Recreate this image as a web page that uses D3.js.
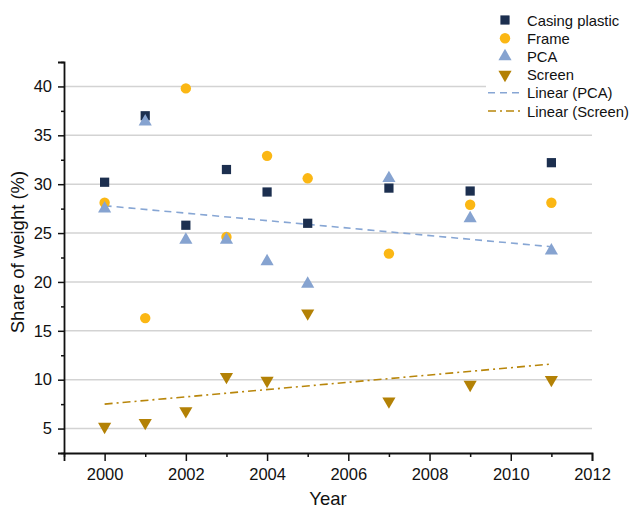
<!DOCTYPE html>
<html><head><meta charset="utf-8">
<script src="https://cdn.jsdelivr.net/npm/d3@7/dist/d3.min.js"></script>
<style>body{margin:0;background:#fff}svg{display:block;font-family:"Liberation Sans",Arial,sans-serif}</style>
</head><body><svg id="c" width="630" height="508"></svg>
<script>
const years = [2000, 2001, 2002, 2003, 2004, 2005, 2007, 2009, 2011];
const casingPlastic = [30.2, 37.0, 25.8, 31.5, 29.2, 26.0, 29.6, 29.3, 32.2];
const frame = [28.1, 16.3, 39.8, 24.6, 32.9, 30.6, 22.9, 27.9, 28.1];
const pca = [27.5, 36.4, 24.3, 24.3, 22.1, 19.8, 30.6, 26.5, 23.2];
const screen = [5.2, 5.6, 6.8, 10.3, 9.9, 16.8, 7.8, 9.5, 10.0];
const trendYears = [2000, 2011];
const trendPCA = [27.8, 23.6];
const trendScreen = [7.5, 11.6];
const xTicks = [2000, 2002, 2004, 2006, 2008, 2010, 2012];
const yTicks = [5, 10, 15, 20, 25, 30, 35, 40];

const svg = d3.select("#c");
const x = d3.scaleLinear().domain([1999, 2012]).range([64, 592]);
const y = d3.scaleLinear().domain([2.5, 42.5]).range([453, 62]);

// grid
svg.append("g").selectAll("line").data(yTicks).join("line")
  .attr("x1", 64).attr("x2", 592).attr("y1", d => y(d)).attr("y2", d => y(d))
  .attr("stroke", "#d3d3d3").attr("stroke-width", 1.5);

// trend lines
const line = d3.line().x(d => x(d[0])).y(d => y(d[1]));
svg.append("path").attr("d", line(trendYears.map((t, i) => [t, trendPCA[i]])))
  .attr("fill", "none").attr("stroke", "#87a6d4").attr("stroke-width", 1.6).attr("stroke-dasharray", "7,5");
svg.append("path").attr("d", line(trendYears.map((t, i) => [t, trendScreen[i]])))
  .attr("fill", "none").attr("stroke", "#b8860b").attr("stroke-width", 1.6).attr("stroke-dasharray", "8,4,2,4");

// axes
svg.append("g").attr("transform", "translate(0,453)")
  .call(d3.axisBottom(x).tickValues(xTicks).tickFormat(d3.format("d")).tickSize(8).tickPadding(7));
svg.append("g").attr("transform", "translate(0,453)")
  .call(d3.axisBottom(x).tickValues(d3.range(1999, 2012, 2)).tickFormat("").tickSize(4))
  .select(".domain").remove();
svg.append("g").attr("transform", "translate(64,0)")
  .call(d3.axisLeft(y).tickValues(yTicks).tickSize(6).tickPadding(6));
svg.append("g").attr("transform", "translate(64,0)")
  .call(d3.axisLeft(y).tickValues(d3.range(2.5, 43, 5)).tickFormat("").tickSize(3))
  .select(".domain").remove();
svg.selectAll(".domain").attr("stroke", "#111").attr("stroke-width", 1.8);
svg.selectAll(".tick line").attr("stroke", "#111").attr("stroke-width", 1.5);
svg.selectAll(".tick text").attr("font-size", 16.5).attr("fill", "#111").attr("font-family", "Liberation Sans, Arial, sans-serif");

// axis titles
svg.append("text").attr("x", 328).attr("y", 505).attr("text-anchor", "middle")
  .attr("font-size", 18.5).attr("fill", "#111").text("Year");
svg.append("text").attr("transform", "translate(24,252) rotate(-90)").attr("text-anchor", "middle")
  .attr("font-size", 18.5).attr("fill", "#111").text("Share of weight (%)");

// markers
const sym = (type, size) => d3.symbol().type(type).size(size)();
const series = [
  {name: "Casing plastic", vals: casingPlastic, color: "#1c2f4f", shape: d3.symbolSquare, size: 85, rot: 0},
  {name: "Frame", vals: frame, color: "#fbb714", shape: d3.symbolCircle, size: 85, rot: 0},
  {name: "PCA", vals: pca, color: "#86a3d0", shape: d3.symbolTriangle, size: 75, rot: 0},
  {name: "Screen", vals: screen, color: "#b38105", shape: d3.symbolTriangle, size: 75, rot: 180}
];
series.forEach(s => {
  svg.append("g").selectAll("path").data(years.map((yr, i) => [yr, s.vals[i]])).join("path")
    .attr("d", sym(s.shape, s.size))
    .attr("transform", d => `translate(${x(d[0])},${y(d[1])}) rotate(${s.rot})`)
    .attr("fill", s.color);
});

// legend
const lg = svg.append("g");
lg.append("rect").attr("x", 486).attr("y", 8).attr("width", 144).attr("height", 114).attr("fill", "#fff");
const rowY = i => 20 + i * 18.2;
series.forEach((s, i) => {
  lg.append("path").attr("d", sym(s.shape, s.size))
    .attr("transform", `translate(505,${rowY(i)}) rotate(${s.rot})`).attr("fill", s.color);
  lg.append("text").attr("x", 527).attr("y", rowY(i) + 5.5).attr("font-size", 14.8).attr("fill", "#111").text(s.name);
});
lg.append("line").attr("x1", 488).attr("x2", 524).attr("y1", rowY(4)).attr("y2", rowY(4))
  .attr("stroke", "#87a6d4").attr("stroke-width", 1.6).attr("stroke-dasharray", "7,5");
lg.append("text").attr("x", 527).attr("y", rowY(4) + 5.5).attr("font-size", 14.8).attr("fill", "#111").text("Linear (PCA)");
lg.append("line").attr("x1", 488).attr("x2", 524).attr("y1", rowY(5)).attr("y2", rowY(5))
  .attr("stroke", "#b8860b").attr("stroke-width", 1.6).attr("stroke-dasharray", "8,4,2,4");
lg.append("text").attr("x", 527).attr("y", rowY(5) + 5.5).attr("font-size", 14.8).attr("fill", "#111").text("Linear (Screen)");
</script></body></html>
